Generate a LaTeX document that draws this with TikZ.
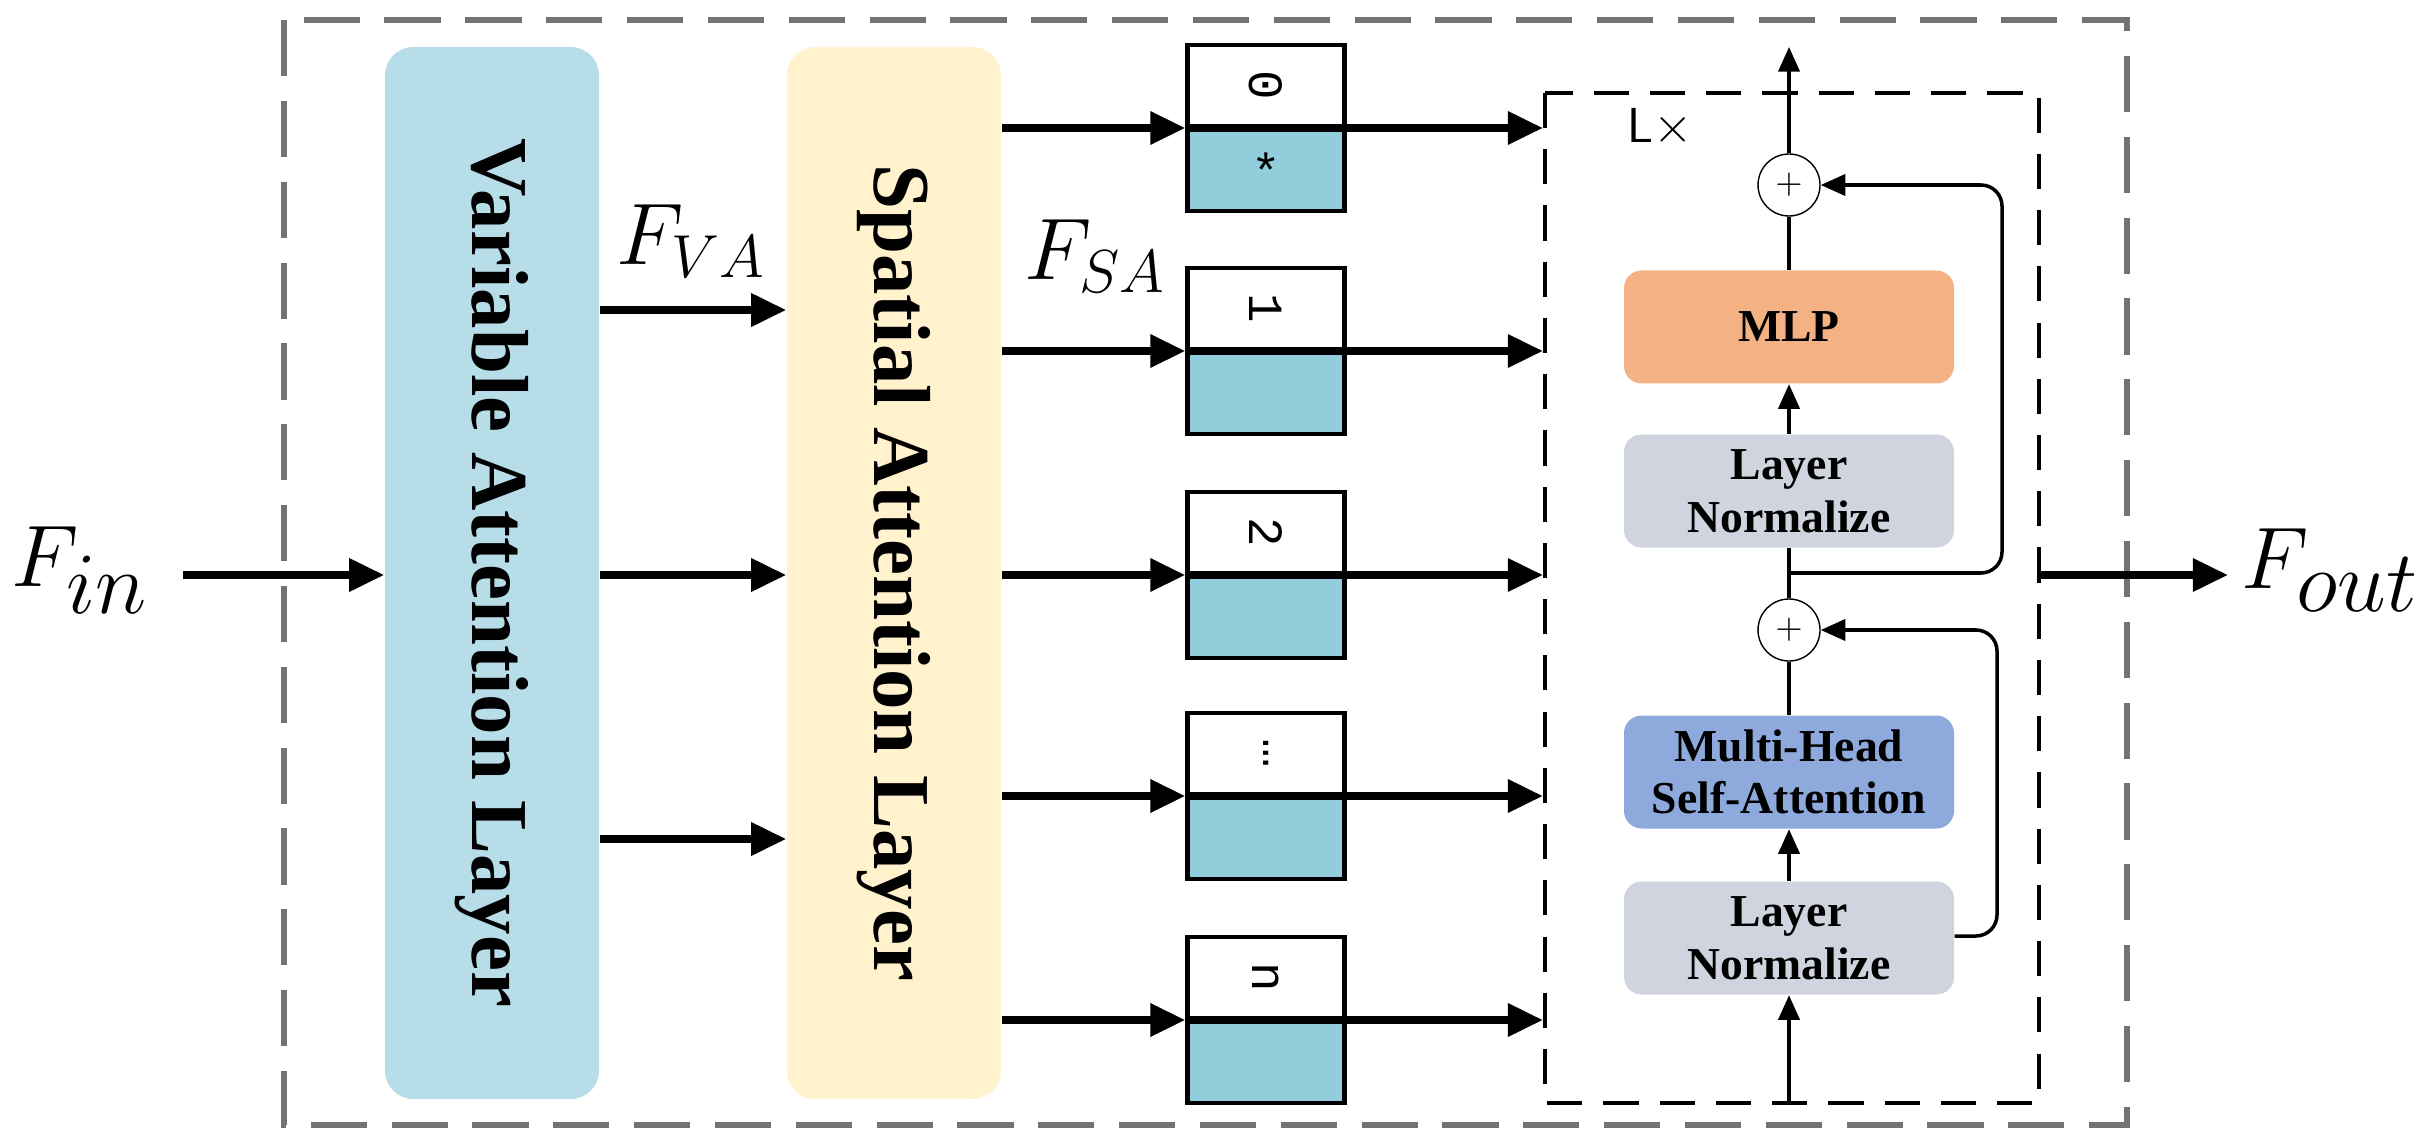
\documentclass[tikz,border=0pt]{standalone}
\usepackage{fontspec}
\setmainfont{Liberation Serif}
\newfontfamily\monofont{Liberation Mono}
\usetikzlibrary{arrows.meta}
\definecolor{varblue}{HTML}{B7DDE8}
\definecolor{spayellow}{HTML}{FFF2CC}
\definecolor{tokblue}{HTML}{92CDDC}
\definecolor{mlporange}{HTML}{F4B183}
\definecolor{lngray}{HTML}{D0D4DE}
\definecolor{mhsablue}{HTML}{8EA9DB}
\tikzset{
  layer/.style={rounded corners=8pt, minimum width=2.14cm, minimum height=10.52cm, inner sep=0pt},
  layertext/.style={rotate=-90, font=\fontsize{23}{27}\selectfont\bfseries},
  cell/.style={draw, line width=1.2pt, minimum width=1.57cm, minimum height=0.81cm, inner sep=0pt, font=\monofont\fontsize{14}{15}\selectfont},
  block/.style={rounded corners=5pt, minimum width=3.3cm, minimum height=1.13cm, align=center, font=\fontsize{13}{15}\selectfont\bfseries},
  plus/.style={circle, draw, minimum size=0.62cm, inner sep=0pt},
  thickarr/.style={-{Triangle[length=10pt,width=9pt]}, line width=2.2pt},
  thinarr/.style={-{Triangle[length=7pt,width=6pt]}, line width=1pt}
}
\begin{document}
\begin{tikzpicture}[x=0.1mm, y=-0.1mm]
    \useasboundingbox (0,0) rectangle (2435,1131);

    \draw[gray!90!black, dash pattern=on 16pt off 7pt, line width=1.6pt] (284,20) rectangle (2127,1125);

    \node[layer, fill=varblue] (var) at (492,573) {};
    \node[layertext] at (var) {Variable Attention Layer};
    \node[layer, fill=spayellow] (spa) at (894,573) {};
    \node[layertext] at (spa) {Spatial Attention Layer};

    \node (fin) at (80,570) {\fontsize{36}{40}\selectfont$F_{in}$};
    \node (fout) at (2330,570) {\fontsize{36}{40}\selectfont$F_{out}$};
    \node (fva) at (691,241) {\fontsize{24}{26}\selectfont$F_{VA}$};
    \node (fsa) at (1095,256) {\fontsize{24}{26}\selectfont$F_{SA}$};

    \draw[thickarr] (183,575) -- (var.west |- 0,575);
    \foreach \y in {310,575,839}
        \draw[thickarr] (var.east |- 0,\y) -- (spa.west |- 0,\y);

    % token boxes
    \foreach \i/\t/\b/\y in {0/0/*/128, 1/1//351, 2/2//575, 3/\dots//796, 4/n//1020} {
        \node[cell, anchor=south, fill=white] (top\i) at (1266,\y) {\rotatebox{-90}{\t}};
        \node[cell, anchor=north, fill=tokblue] (bot\i) at (1266,\y) {\b};
        \draw[thickarr] (spa.east |- 0,\y) -- (top\i.south west);
        \draw[thickarr] (top\i.south east) -- (1543,\y);
    }

    % transformer encoder
    \draw[dash pattern=on 10pt off 6pt, line width=1.2pt] (1545,93) rectangle (2039,1103);
    \node (lx) at (1660,128) {\fontsize{14}{15}\selectfont\sffamily L$\times$};

    \node[plus] (add1) at (1789,185) {$+$};
    \node[block, fill=mlporange] (mlp) at (1789,327) {MLP};
    \node[block, fill=lngray] (ln1) at (1789,491) {Layer\\Normalize};
    \node[plus] (add2) at (1789,630) {$+$};
    \node[block, fill=mhsablue] (mhsa) at (1789,772) {Multi-Head\\Self-Attention};
    \node[block, fill=lngray] (ln2) at (1789,938) {Layer\\Normalize};

    \coordinate (inlet) at (1789,1103);
    \coordinate (outlet) at (1789,47);
    \coordinate (branch) at (1789,573);

    \draw[thinarr] (inlet) -- (ln2);
    \draw[thinarr] (ln2) -- (mhsa);
    \draw[line width=1pt] (mhsa) -- (add2);
    \draw[line width=1pt] (add2) -- (ln1);
    \draw[thinarr] (ln1) -- (mlp);
    \draw[line width=1pt] (mlp) -- (add1);
    \draw[thinarr] (add1) -- (outlet);
    \draw[thinarr, rounded corners=6pt] (ln2.east |- 0,936) -- (1997,936) -- (1997,630) -- (add2);
    \draw[thinarr, rounded corners=6pt] (branch) -- (2002,573) -- (2002,185) -- (add1);

    \draw[thickarr] (2039,575) -- (2228,575);
\end{tikzpicture}
\end{document}
